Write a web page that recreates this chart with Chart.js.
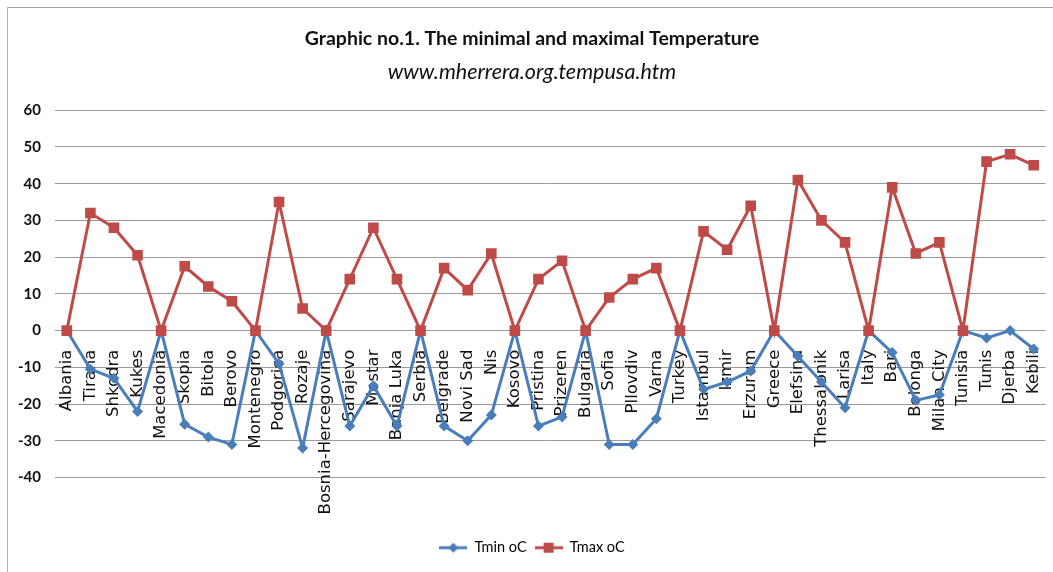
<!DOCTYPE html>
<html>
<head>
<meta charset="utf-8">
<title>Graphic no.1</title>
<script src="https://cdn.jsdelivr.net/npm/chart.js@4/dist/chart.umd.min.js"></script>
<style>
  html, body { margin: 0; padding: 0; background: #fff; }
  #wrap { position: relative; width: 1053px; height: 572px; overflow: hidden; }
  #frame {
    position: absolute; left: 7px; top: 7px; width: 1100px; height: 600px;
    border-left: 1px solid #b4b4b4; border-top: 1px solid #a0a0a0;
  }
  #chart { position: absolute; left: 0; top: 0; }
</style>
</head>
<body>
<div id="wrap">
  <div id="frame"></div>
  <canvas id="chart" width="1053" height="572"></canvas>
</div>
<script>
// ==================== Data ====================
const places = [
  'Albania', 'Tirana', 'Shkodra', 'Kukes',
  'Macedonia', 'Skopia', 'Bitola', 'Berovo',
  'Montenegro', 'Podgorica', 'Rozaje',
  'Bosnia-Hercegovina', 'Sarajevo', 'Mostar', 'Banja Luka',
  'Serbia', 'Belgrade', 'Novi Sad', 'Nis',
  'Kosovo', 'Pristina', 'Prizeren',
  'Bulgaria', 'Sofia', 'Pllovdiv', 'Varna',
  'Turkey', 'Istambul', 'Izmir', 'Erzurum',
  'Greece', 'Elefsina', 'Thessalonik', 'Larisa',
  'Italy', 'Bari', 'Bolonga', 'Milan City',
  'Tunisia', 'Tunis', 'Djerba', 'Kebili'
];

const tMin = [
  0, -10.5, -13, -22,
  0, -25.5, -29, -31,
  0, -9, -32,
  0, -26, -15, -26,
  0, -26, -30, -23,
  0, -26, -23.5,
  0, -31, -31, -24,
  0, -16, -14, -11,
  0, -7, -14, -21,
  0, -6, -19, -17.5,
  0, -2, 0, -5
];

const tMax = [
  0, 32, 28, 20.5,
  0, 17.5, 12, 8,
  0, 35, 6,
  0, 14, 28, 14,
  0, 17, 11, 21,
  0, 14, 19,
  0, 9, 14, 17,
  0, 27, 22, 34,
  0, 41, 30, 24,
  0, 39, 21, 24,
  0, 46, 48, 45
];

const seriesNames = ['Tmin oC', 'Tmax oC'];
const yTicks = { min: -40, max: 60, step: 10 };

const BLUE = '#4A7EBB';
const RED = '#BE4B48';

// ==================== Legend swatches (line + marker) ====================
function makeSwatch(color, marker) {
  const c = document.createElement('canvas');
  c.width = 28;
  c.height = 12;
  const g = c.getContext('2d');
  g.strokeStyle = color;
  g.fillStyle = color;
  g.lineWidth = 3;
  g.beginPath();
  g.moveTo(0, 6);
  g.lineTo(28, 6);
  g.stroke();
  g.beginPath();
  if (marker === 'diamond') {
    g.moveTo(14, 1); g.lineTo(19, 6); g.lineTo(14, 11); g.lineTo(9, 6);
  } else {
    g.rect(9, 1, 10, 10);
  }
  g.closePath();
  g.fill();
  return c;
}

const swatches = [makeSwatch(BLUE, 'diamond'), makeSwatch(RED, 'square')];

// ==================== Chart ====================
const sans = 'Lato, sans-serif';

new Chart(document.getElementById('chart'), {
  type: 'line',
  data: {
    labels: places,
    datasets: [
      {
        label: seriesNames[0],
        data: tMin,
        borderColor: BLUE,
        backgroundColor: BLUE,
        borderWidth: 3,
        pointStyle: 'rectRot',
        pointRadius: 5.5,
        pointBorderWidth: 0,
        tension: 0,
        order: 1
      },
      {
        label: seriesNames[1],
        data: tMax,
        borderColor: RED,
        backgroundColor: RED,
        borderWidth: 3,
        pointStyle: 'rect',
        pointRadius: 7.5,
        pointBorderWidth: 0,
        tension: 0,
        order: 0
      }
    ]
  },
  options: {
    responsive: false,
    animation: false,
    // left padding + narrower y axis keeps the plot at x=55 but centres the texts at ~535
    layout: { padding: { top: 0, right: 5, bottom: 7, left: 16 } },
    plugins: {
      title: {
        display: true,
        text: 'Graphic no.1. The minimal and maximal Temperature',
        color: '#111',
        font: { family: sans, size: 19.5, weight: 'bold' },
        padding: { top: 27, bottom: 0 }
      },
      subtitle: {
        display: true,
        text: 'www.mherrera.org.tempusa.htm',
        color: '#111',
        font: { family: sans, size: 21.5, style: 'italic' },
        padding: { top: 9, bottom: 25 }
      },
      legend: {
        position: 'bottom',
        labels: {
          color: '#111',
          font: { family: sans, size: 14.5 },
          padding: 8,
          usePointStyle: true,
          pointStyleWidth: 28,
          generateLabels: chart => chart.data.datasets.map((ds, i) => ({
            text: ds.label,
            pointStyle: swatches[i],
            fillStyle: ds.borderColor,
            strokeStyle: ds.borderColor,
            lineWidth: 0,
            datasetIndex: i,
            hidden: false
          }))
        }
      },
      tooltip: { enabled: false }
    },
    scales: {
      x: {
        position: { y: 0 },
        offset: true,
        grid: { display: false, drawTicks: false },
        border: { display: false },
        ticks: {
          autoSkip: false,
          maxRotation: 90,
          minRotation: 90,
          padding: 19,
          color: '#111',
          font: { family: 'DejaVu Sans', size: 16.5 }
        },
        afterFit: s => { s.paddingLeft = 0; s.paddingRight = 0; }
      },
      xPad: {
        type: 'category',
        position: 'bottom',
        grid: { display: false, drawTicks: false },
        border: { display: false },
        ticks: { display: false },
        afterFit: s => { s.height = 55; s.paddingLeft = 0; s.paddingRight = 0; }
      },
      y: {
        min: yTicks.min,
        max: yTicks.max,
        grid: { color: '#9a9a9a', lineWidth: 1, drawTicks: false },
        border: { display: false },
        ticks: {
          stepSize: yTicks.step,
          padding: 14,
          color: '#111',
          font: { family: sans, size: 15, weight: 'bold' }
        },
        afterFit: s => { s.width = 39; }
      }
    }
  }
});
</script>
</body>
</html>
